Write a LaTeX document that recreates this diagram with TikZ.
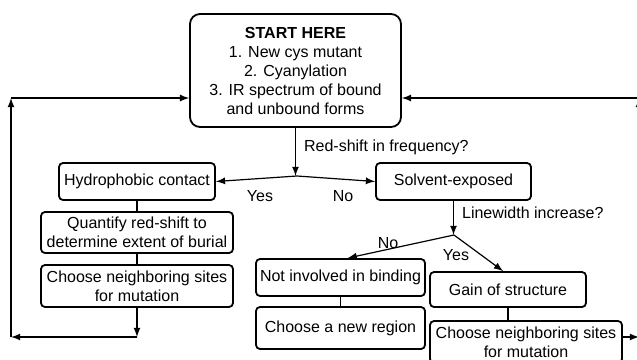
\documentclass[tikz,border=0pt]{standalone}
\usepackage{fontspec}
\setmainfont{Liberation Sans}
\usepackage{tikz}
\tikzset{
box/.style={rectangle,draw=black,line width=0.9pt,rounded corners=2pt,align=center,inner sep=1pt},
lbl/.style={inner sep=0pt}
}

\begin{document}
\begin{tikzpicture}[x=0.5pt,y=-0.5pt,>=latex,line width=0.6pt,font=\fontsize{8}{9.5}\selectfont]
\useasboundingbox (0,0) rectangle (637,359);
\node[box,rounded corners=5pt,minimum width=105.5pt,minimum height=56.5pt] (start) at(295.5,70.5) {\textbf{START HERE}\\1. New cys mutant\\2. Cyanylation\\3. IR spectrum of bound\\and unbound forms};
\node[box,minimum width=78pt,minimum height=18.5pt] (hydro) at(137,181.5) {Hydrophobic contact};
\node[box,minimum width=96pt,minimum height=20.5pt] (quant) at(137,232.5) {Quantify red-shift to\\determine extent of burial};
\node[box,minimum width=96pt,minimum height=21pt] (chooseL) at(137,286) {Choose neighboring sites\\for mutation};
\node[box,minimum width=77.5pt,minimum height=18.5pt] (solv) at(453.5,181.5) {Solvent-exposed};
\node[box,minimum width=84.5pt,minimum height=18.5pt] (notinv) at(340.5,277.5) {Not involved in binding};
\node[box,minimum width=84.5pt,minimum height=21pt] (newreg) at(340.5,328) {Choose a new region};
\node[box,minimum width=78pt,minimum height=17.5pt] (gain) at(508,289.5) {Gain of structure};
\node[box,minimum width=96pt,minimum height=21pt] (chooseR) at(526,342) {Choose neighboring sites\\for mutation};
\coordinate (j1) at(297,176);
\coordinate (j2) at(454,235);
\coordinate (bl) at(137,337);
\coordinate (cl1) at(11,337);
\coordinate (cl2) at(11,98);
\coordinate (cr1) at(639,337);
\coordinate (cr2) at(639,98);
% first question
\draw[->] (start.south) -- node[lbl,right=4pt,pos=0.4]{Red-shift in frequency?}(start.south |- j1);
\draw[->] (j1) -- (hydro.east);
\draw[->] (j1) -- (solv.west);
\node[lbl] (yes1) at(260,196) {Yes};
\node[lbl] (no1) at(343,196) {No};
% left column
\draw (hydro) -- (quant);
\draw (quant) -- (chooseL);
\draw[->] (chooseL.south) -- (bl);
\draw[->] (bl) -- (cl1);
\draw[->] (cl1) -- (cl2);
\draw[->] (cl2) -- (start.west |- cl2);
% second question
\draw[->] (solv.south) -- node[lbl,right=4pt,pos=0.35]{Linewidth increase?}(solv.south |- j2);
\draw[->] (j2) -- (notinv.70);
\draw[->] (j2) -- (gain.105);
\node[lbl] (no2) at(388,243) {No};
\node[lbl] (yes2) at(456,255) {Yes};
\draw (notinv) -- (newreg);
\draw (gain.south) -- (gain.south |- chooseR.north);
% right loop
\draw[->] (chooseR.east |- cr1) -- (cr1);
\draw[->] (cr1) -- (cr2);
\draw[->] (cr2) -- (start.east |- cr2);
\end{tikzpicture}
\end{document}
